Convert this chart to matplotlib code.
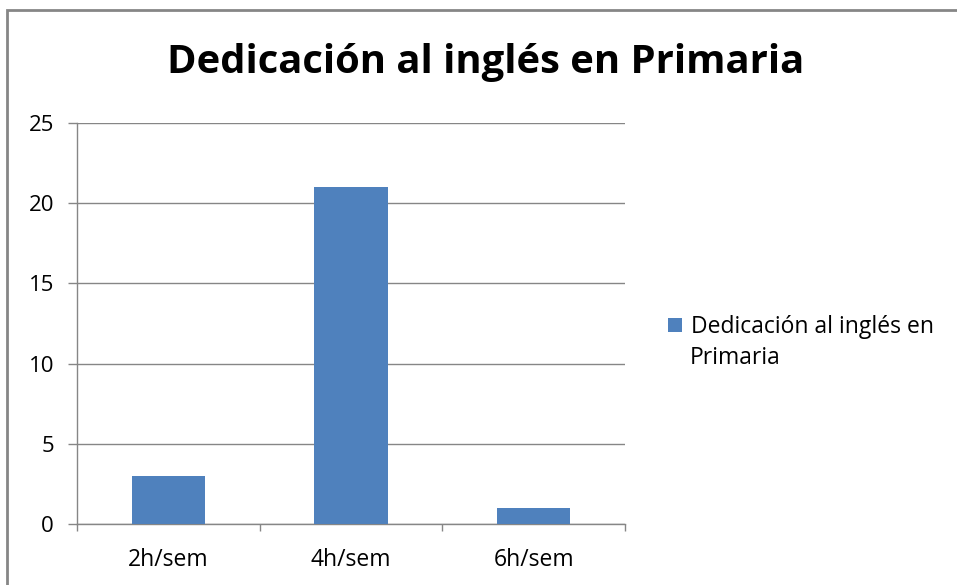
import matplotlib
matplotlib.use("Agg")
import matplotlib.pyplot as plt
from matplotlib.patches import Rectangle

categorias = ["2h/sem", "4h/sem", "6h/sem"]
valores = [3, 21, 1]
serie_l1 = "Dedicación al inglés en"
serie_l2 = "Primaria"
yticks = [0, 5, 10, 15, 20, 25]

plt.rcParams["font.family"] = ["Open Sans", "DejaVu Sans"]

W, H = 957, 585
fig = plt.figure(figsize=(W / 100, H / 100), dpi=100)

# marco del gráfico
fig.add_artist(Rectangle((7 / W, -0.1), 1.2, (H - 10) / H + 0.1, transform=fig.transFigure,
                         fill=False, edgecolor="#868686", linewidth=2))

ax = fig.add_axes([77 / W, (H - 524) / H, (625 - 77) / W, (524 - 123) / H])
x = range(len(categorias))
ax.bar(x, valores, width=0.4, color="#4F81BD", label=serie_l1, zorder=3)

ax.set_xlim(-0.5, len(categorias) - 0.5)
ax.set_ylim(0, 25)
ax.set_yticks(yticks)
ax.set_yticklabels([str(v) for v in yticks], fontsize=16)
ax.set_xticks([i - 0.5 for i in range(len(categorias) + 1)])
ax.set_xticklabels([])
ax.set_xticks(list(x), minor=True)
ax.set_xticklabels(categorias, minor=True, fontsize=16.5)
ax.tick_params(axis="x", which="minor", length=0, pad=17)
ax.tick_params(axis="x", which="major", length=5, color="#868686", width=1)
ax.tick_params(axis="y", length=6.5, color="#868686", width=1, pad=10)

ax.grid(axis="y", color="#868686", linewidth=1, zorder=0)
for s in ["top", "right"]:
    ax.spines[s].set_visible(False)
for s in ["left", "bottom"]:
    ax.spines[s].set_color("#868686")
    ax.spines[s].set_linewidth(1)

fig.text(485.5 / W, (H - 62) / H, "Dedicación al inglés en Primaria", ha="center", va="center",
         fontsize=28.8, fontweight="bold")

leg = ax.legend(loc="center left", bbox_to_anchor=(668 / W, (H - 327) / H),
                bbox_transform=fig.transFigure, frameon=False, fontsize=16.5,
                handlelength=0.6, handleheight=0.6, handletextpad=0.4, borderpad=0,
                borderaxespad=0)
fig.text(690 / W, (H - 358) / H, serie_l2, ha="left", va="center", fontsize=16.5)

fig.savefig("out.png", dpi=100)
